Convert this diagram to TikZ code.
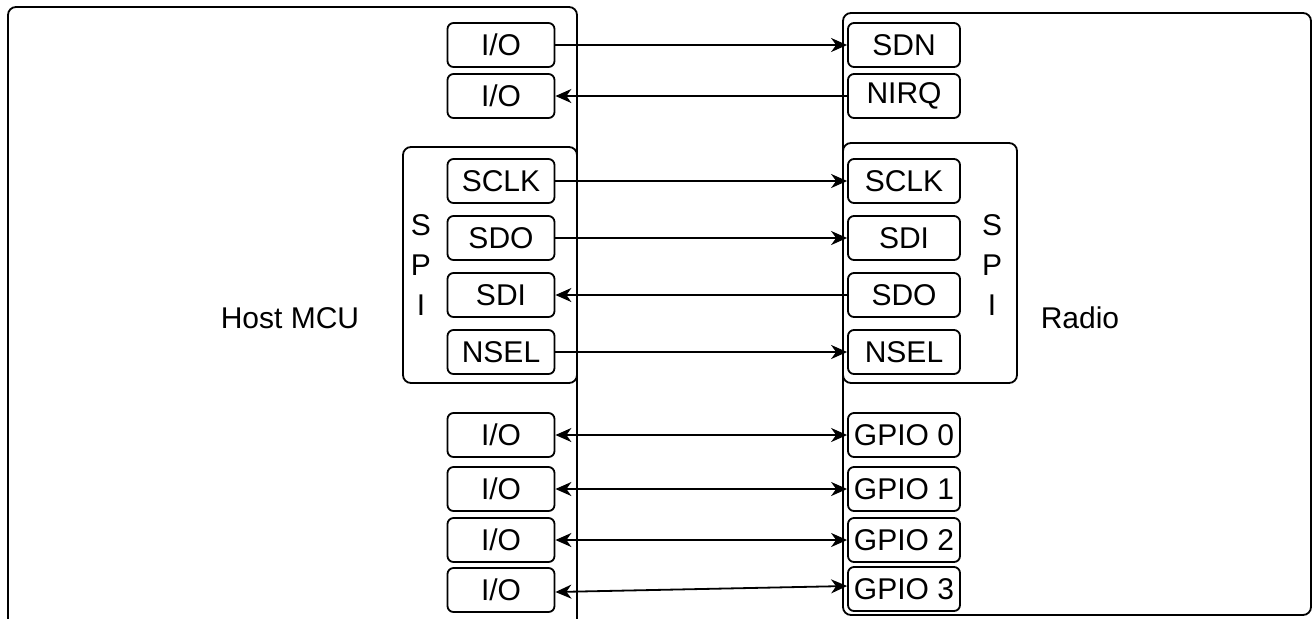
\documentclass[tikz,border=0pt]{standalone}
\usepackage{fontspec}
\setmainfont{Liberation Sans}
\usetikzlibrary{arrows.meta}
\begin{document}
\begin{tikzpicture}[x=0.5pt,y=-0.5pt,line width=0.9pt,
  every node/.style={font=\fontsize{15}{20}\selectfont},
  pin/.style={draw,rounded corners=3pt,minimum width=53.5pt,minimum height=22pt,inner sep=0pt},
  rpin/.style={pin,minimum width=56pt},
  tip/.tip={Stealth[length=8pt,width=7pt,inset=2.5pt]},
  wire/.style={-tip},
  bus/.style={tip-tip}]
\useasboundingbox (0,0) rectangle (1312,618);
\clip (0,0) rectangle (1312,618);

% chips
\draw[rounded corners=4pt] (8,7) rectangle (577,640);
\draw[rounded corners=4pt] (843,13) rectangle (1311,615);
\draw[rounded corners=4pt] (403,147) rectangle (577,383);
\draw[rounded corners=4pt] (843,143) rectangle (1017,383);
\node (host) at (290,318) {Host MCU};
\node (radio) at (1080,318) {Radio};
\node[align=center] (hspi) at (421,265) {S\\P\\I};
\node[align=center] (rspi) at (992,265) {S\\P\\I};

% host pins
\node[pin] (io1) at (501,45) {I/O};
\node[pin] (io2) at (501,96) {I/O};
\node[pin] (hsclk) at (501,181) {SCLK};
\node[pin] (hsdo) at (501,238) {SDO};
\node[pin] (hsdi) at (501,295) {SDI};
\node[pin] (hnsel) at (501,352) {NSEL};
\node[pin] (io3) at (501,435) {I/O};
\node[pin] (io4) at (501,489) {I/O};
\node[pin] (io5) at (501,540) {I/O};
\node[pin] (io6) at (501,590) {I/O};

% radio pins
\node[rpin] (sdn) at (904,45) {SDN};
\node[rpin] (nirq) at (904,96) {NIRQ};
\node[rpin] (rsclk) at (904,181) {SCLK};
\node[rpin] (rsdi) at (904,238) {SDI};
\node[rpin] (rsdo) at (904,295) {SDO};
\node[rpin] (rnsel) at (904,352) {NSEL};
\node[rpin] (gpio0) at (904,435) {GPIO 0};
\node[rpin] (gpio1) at (904,489) {GPIO 1};
\node[rpin] (gpio2) at (904,540) {GPIO 2};
\node[rpin] (gpio3) at (904,589) {GPIO 3};

% wires
\draw[wire] (io1) -- (sdn);
\draw[wire] (nirq) -- (io2);
\draw[wire] (hsclk) -- (rsclk);
\draw[wire] (hsdo) -- (rsdi);
\draw[wire] (rsdo) -- (hsdi);
\draw[wire] (hnsel) -- (rnsel);
\draw[bus] (io3.east) -- (gpio0.west);
\draw[bus] (io4.east) -- (gpio1.west);
\draw[bus] (io5.east) -- (gpio2.west);
\draw[bus] ([yshift=-1pt]io6.east) -- ([yshift=1.5pt]gpio3.west);

\end{tikzpicture}
\end{document}
